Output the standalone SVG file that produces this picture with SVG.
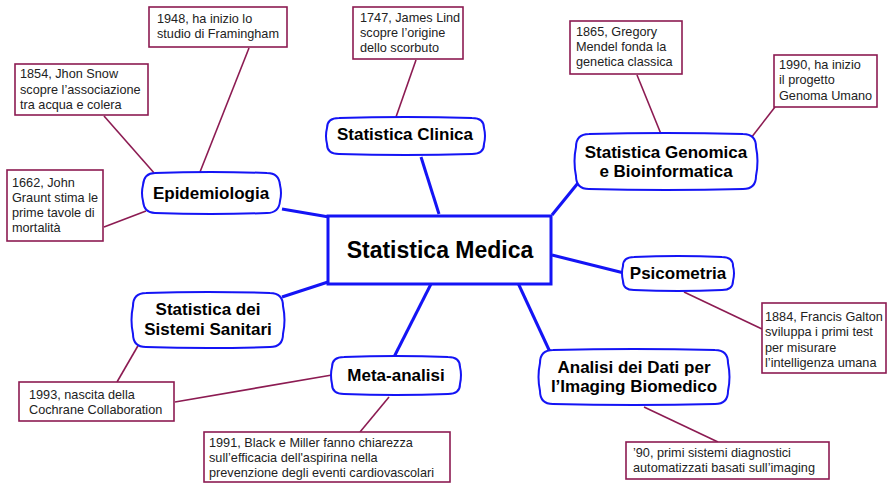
<svg xmlns="http://www.w3.org/2000/svg" width="887" height="483" viewBox="0 0 887 483">
<style>
.node{fill:#fff;stroke:#1414f5;stroke-width:2}
.main{fill:#fff;stroke:#1414f5;stroke-width:3}
.note{fill:#fff;stroke:#8c1b52;stroke-width:1.6}
.lb{stroke:#1414f5;stroke-width:3;fill:none}
.lm{stroke:#8c1b52;stroke-width:1.6;fill:none}
.t{font-family:"Liberation Sans",Arial,sans-serif;font-weight:bold;font-size:17px;fill:#000;text-anchor:middle}
.tm{font-family:"Liberation Sans",Arial,sans-serif;font-weight:bold;font-size:23px;fill:#000;text-anchor:middle}
.n{font-family:"Liberation Sans",Arial,sans-serif;font-size:12.7px;fill:#222}
</style>
<rect width="887" height="483" fill="#fff"/>
<g id="connectors">
<line class="lb" x1="282" y1="209" x2="329" y2="217"/>
<line class="lb" x1="421" y1="157" x2="439" y2="214"/>
<line class="lb" x1="552" y1="215" x2="578" y2="183"/>
<line class="lb" x1="552" y1="255" x2="624" y2="273"/>
<line class="lb" x1="518" y1="283" x2="550" y2="352"/>
<line class="lb" x1="282" y1="297" x2="328" y2="282"/>
<line class="lb" x1="431" y1="284" x2="394" y2="357"/>
<line class="lm" x1="249" y1="48" x2="200" y2="172"/>
<line class="lm" x1="104" y1="116" x2="155" y2="174"/>
<line class="lm" x1="104" y1="227" x2="146" y2="211"/>
<line class="lm" x1="416" y1="60" x2="396" y2="117"/>
<line class="lm" x1="637" y1="75" x2="661" y2="134"/>
<line class="lm" x1="775" y1="107" x2="751" y2="138"/>
<line class="lm" x1="684" y1="292" x2="762" y2="329"/>
<line class="lm" x1="644" y1="407" x2="718" y2="442"/>
<line class="lm" x1="139" y1="344" x2="117" y2="382"/>
<line class="lm" x1="332" y1="375" x2="175" y2="402"/>
<line class="lm" x1="389" y1="397" x2="360" y2="432"/>
</g>
<g id="central">
<rect class="main" x="328" y="216" width="223" height="68"/>
<text class="tm" x="440" y="258">Statistica Medica</text>
</g>
<g id="epidemiologia">
<path class="node" d="M155,173 Q211,171 267,173 Q279,173 280,185 Q282,193 280,201 Q279,213 267,213 Q211,215 155,213 Q144,213 143,201 Q141,193 143,185 Q144,173 155,173 Z"/>
<text class="t" x="211" y="199">Epidemiologia</text>
</g>
<g id="clinica">
<path class="node" d="M339,118 Q405,116 472,118 Q484,118 484,128 Q486,136 484,144 Q484,154 472,154 Q405,156 339,154 Q327,154 327,144 Q325,136 327,128 Q327,118 339,118 Z"/>
<text class="t" x="405" y="140">Statistica Clinica</text>
</g>
<g id="genomica">
<path class="node" d="M589,134 Q666,132 743,134 Q756,134 756,147 Q759,161 756,176 Q756,189 743,189 Q666,191 589,189 Q576,189 576,176 Q573,161 576,147 Q576,134 589,134 Z"/>
<text class="t" x="666" y="158">Statistica Genomica</text>
<text class="t" x="666" y="177">e Bioinformatica</text>
</g>
<g id="psicometria">
<path class="node" d="M634,257 Q678,255 722,257 Q733,257 733,266 Q735,273 733,281 Q733,290 722,290 Q678,292 634,290 Q623,290 623,281 Q621,273 623,266 Q623,257 634,257 Z"/>
<text class="t" x="678" y="279">Psicometria</text>
</g>
<g id="imaging">
<path class="node" d="M553,350 Q634,348 715,350 Q728,350 728,363 Q731,377 728,391 Q728,404 715,404 Q634,406 553,404 Q540,404 540,391 Q537,377 540,363 Q540,350 553,350 Z"/>
<text class="t" x="634" y="373">Analisi dei Dati per</text>
<text class="t" x="634" y="392">l’Imaging Biomedico</text>
</g>
<g id="sistemi">
<path class="node" d="M146,293 Q208,291 270,293 Q283,293 283,306 Q286,320 283,334 Q283,347 270,347 Q208,349 146,347 Q133,347 133,334 Q130,320 133,306 Q133,293 146,293 Z"/>
<text class="t" x="208" y="315">Statistica dei</text>
<text class="t" x="208" y="335">Sistemi Sanitari</text>
</g>
<g id="metaanalisi">
<path class="node" d="M344,357 Q396,355 448,357 Q460,357 460,367 Q462,375 460,384 Q460,394 448,394 Q396,396 344,394 Q332,394 332,384 Q330,375 332,367 Q332,357 344,357 Z"/>
<text class="t" x="396" y="381">Meta-analisi</text>
</g>
<g id="n1948">
<rect class="note" x="149" y="7" width="138" height="40"/>
<text class="n" x="157" y="22.5">1948, ha inizio lo</text>
<text class="n" x="157" y="37.5">studio di Framingham</text>
</g>
<g id="n1854">
<rect class="note" x="15" y="64" width="133" height="51"/>
<text class="n" x="20" y="78">1854, Jhon Snow</text>
<text class="n" x="20" y="94">scopre l’associazione</text>
<text class="n" x="20" y="109">tra acqua e colera</text>
</g>
<g id="n1662">
<rect class="note" x="7" y="170" width="96" height="71"/>
<text class="n" x="12" y="186.5">1662, John</text>
<text class="n" x="12" y="201.5">Graunt stima le</text>
<text class="n" x="12" y="216.5">prime tavole di</text>
<text class="n" x="12" y="231.5">mortalità</text>
</g>
<g id="n1747">
<rect class="note" x="353" y="7" width="110" height="52"/>
<text class="n" x="360" y="21.5">1747, James Lind</text>
<text class="n" x="360" y="36.5">scopre l’origine</text>
<text class="n" x="360" y="52">dello scorbuto</text>
</g>
<g id="n1865">
<rect class="note" x="570" y="21" width="112" height="53"/>
<text class="n" x="576" y="35.5">1865, Gregory</text>
<text class="n" x="576" y="50.5">Mendel fonda la</text>
<text class="n" x="576" y="66">genetica classica</text>
</g>
<g id="n1990">
<rect class="note" x="774" y="55" width="103" height="52"/>
<text class="n" x="779" y="68.5">1990, ha inizio</text>
<text class="n" x="779" y="84">il progetto</text>
<text class="n" x="779" y="99.5">Genoma Umano</text>
</g>
<g id="n1884">
<rect class="note" x="762" y="303" width="124" height="70"/>
<text class="n" x="765" y="320.5">1884, Francis Galton</text>
<text class="n" x="765" y="336">sviluppa i primi test</text>
<text class="n" x="765" y="351.5">per misurare</text>
<text class="n" x="765" y="366.5">l’intelligenza umana</text>
</g>
<g id="n90">
<rect class="note" x="626" y="442" width="203" height="37"/>
<text class="n" x="633" y="456.5">’90, primi sistemi diagnostici</text>
<text class="n" x="633" y="471.5">automatizzati basati sull’imaging</text>
</g>
<g id="n1993">
<rect class="note" x="19" y="382" width="155" height="39"/>
<text class="n" x="29" y="398.5">1993, nascita della</text>
<text class="n" x="29" y="413.5">Cochrane Collaboration</text>
</g>
<g id="n1991">
<rect class="note" x="204" y="432" width="246" height="50"/>
<text class="n" x="209" y="446.5">1991, Black e Miller fanno chiarezza</text>
<text class="n" x="209" y="461.5">sull’efficacia dell'aspirina nella</text>
<text class="n" x="209" y="476.5">prevenzione degli eventi cardiovascolari</text>
</g>
</svg>
